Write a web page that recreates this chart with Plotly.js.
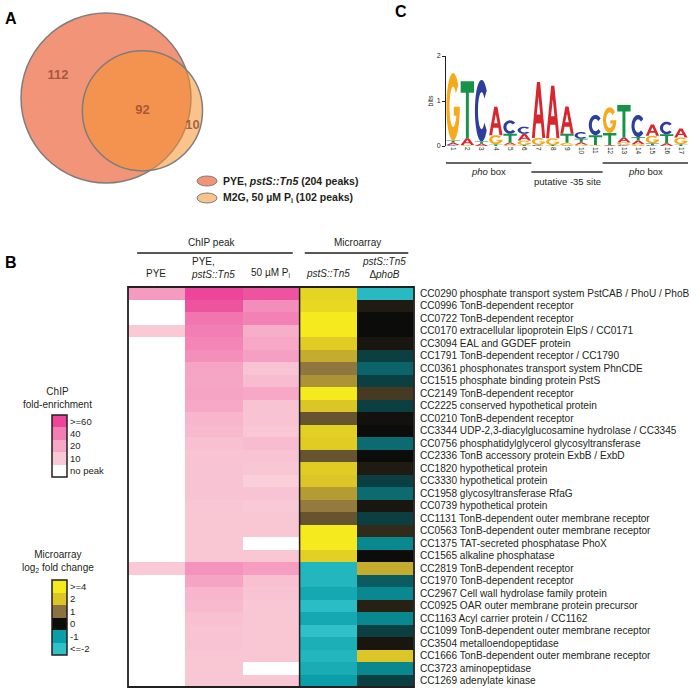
<!DOCTYPE html>
<html>
<head>
<meta charset="utf-8">
<script src="https://cdn.plot.ly/plotly-3.0.1.min.js"></script>
<style>html,body{margin:0;padding:0;background:#fff}</style>
</head>
<body>
<div id="fig" style="width:700px;height:691px"></div>
<script>
// ---------- Data: panel A (Venn) ----------
const vennSets = ['PYE, <i>pstS::Tn5</i> (204 peaks)', 'M2G, 50 \u00b5M P<sub>i</sub> (102 peaks)'];
const vennTotals = [204, 102];
const vennOnly = [112, 10];
const vennShared = 92;

// ---------- Data: panel B (heatmap) ----------
const genes = [
  'CC0290 phosphate transport system PstCAB / PhoU / PhoB',
  'CC0996 TonB-dependent receptor',
  'CC0722 TonB-dependent receptor',
  'CC0170 extracellular lipoprotein ElpS / CC0171',
  'CC3094 EAL and GGDEF protein',
  'CC1791 TonB-dependent receptor / CC1790',
  'CC0361 phosphonates transport system PhnCDE',
  'CC1515 phosphate binding protein PstS',
  'CC2149 TonB-dependent receptor',
  'CC2225 conserved hypothetical protein',
  'CC0210 TonB-dependent receptor',
  'CC3344 UDP-2,3-diacylglucosamine hydrolase / CC3345',
  'CC0756 phosphatidylglycerol glycosyltransferase',
  'CC2336 TonB accessory protein ExbB / ExbD',
  'CC1820 hypothetical protein',
  'CC3330 hypothetical protein',
  'CC1958 glycosyltransferase RfaG',
  'CC0739 hypothetical protein',
  'CC1131 TonB-dependent outer membrane receptor',
  'CC0563 TonB-dependent outer membrane receptor',
  'CC1375 TAT-secreted phosphatase PhoX',
  'CC1565 alkaline phosphatase',
  'CC2819 TonB-dependent receptor',
  'CC1970 TonB-dependent receptor',
  'CC2967 Cell wall hydrolase family protein',
  'CC0925 OAR outer membrane protein precursor',
  'CC1163 Acyl carrier protein / CC1162',
  'CC1099 TonB-dependent outer membrane receptor',
  'CC3504 metalloendopeptidase',
  'CC1666 TonB-dependent outer membrane receptor',
  'CC3723 aminopeptidase',
  'CC1269 adenylate kinase'
];
// ChIP fold-enrichment (0 = no peak)
const chipPYE  = [26,0,0,10,0,0,0,0,0,0,0,0,0,0,0,0,0,0,0,0,0,0,10,0,0,0,0,0,0,0,0,0];
const chipPstS = [65,55,43,40,36,32,22,21,22,20,16,15,13,12,12,12,12,11,11,11,11,11,30,22,16,15,13,12,12,11,11,11];
const chip50   = [55,33,38,18,20,24,12,14,20,12,12,11,14,12,11,9,12,10,11,11,0,11,25,13,12,11,11,11,11,11,0,11];
// Microarray log2 fold change
const arrayPstS = [2.8,3.0,4,4,2.4,1.7,1.05,1.4,4,2.0,0.7,2.6,2.4,0.7,2.4,2.0,1.5,1.1,0.7,4,4,2.6,-1.7,-1.7,-1.3,-1.9,-1.3,-2,-1.5,-1.7,-1.4,-1.0];
const arrayPhoB = [-1.8,0.15,0,0,0.1,-0.35,-0.6,-0.35,0.45,-0.35,0.05,0,-0.65,0,0.15,-0.35,-0.65,0.1,-0.35,0.3,-0.85,0,1.7,-0.55,-0.85,0.2,-0.85,-0.35,0.1,2.0,-0.85,-0.35];

const chipLegendLabels = ['&gt;=60','40','20','10','no peak'];
const chipLegendValues = [60,40,20,10,0];
const arrayLegendLabels = ['&gt;=4','2','1','0','-1','&lt;=-2'];
const arrayLegendValues = [4,2,1,0,-1,-2];

// ---------- Data: panel C (sequence logo, bits) ----------
const logoPos = [1,2,3,4,5,6,7,8,9,10,11,12,13,14,15,16,17];
const bitsA = [0.05,0.15,0.05,0.63,0.04,0.15,1.24,1.17,0.61,0.05,0,0.02,0.11,0.08,0.25,0.06,0.20];
const bitsC = [0.02,0,1.37,0,0.30,0.16,0.02,0,0,0.15,0.45,0,0.02,0.49,0.02,0.28,0];
const bitsG = [1.50,0.02,0,0.20,0.03,0.10,0.16,0.15,0.07,0.03,0.02,0.57,0.06,0.04,0.17,0,0.15];
const bitsT = [0.05,1.27,0.05,0.04,0.20,0.02,0,0.02,0.20,0.08,0.22,0.27,0.72,0.08,0.04,0.20,0.04];
const siteNames = ['<i>pho</i> box', 'putative -35 site', '<i>pho</i> box'];
const siteStart = [1, 7, 12];
const siteEnd = [6, 11, 17];

// ---------- Style ----------
const W = 700, H = 691;
const FONT = 'Liberation Sans, Arial, Helvetica, sans-serif';
const INK = '#231f20';
const chipScale = [[0,'#ffffff'],[10/60,'#f9cad6'],[20/60,'#f6a8c6'],[40/60,'#f27eb3'],[1,'#ec4599']];
const arrayScale = [[0,'#2fc0c8'],[1/6,'#0a9ea8'],[2/6,'#0c0c0a'],[3/6,'#8c7240'],[4/6,'#dcc526'],[1,'#f4ea1e']];
const letterColor = {A:'#d7262e', C:'#2d3e9b', G:'#f7a81b', T:'#179249'};

const px = x => x / W;
const py = y => 1 - y / H;
function ann(text, x, y, o){
  o = o || {};
  return Object.assign({xref:'paper', yref:'paper', x:px(x), y:py(y), text:text, showarrow:false,
    xanchor:'center', yanchor:'middle', font:{family:FONT, size:10, color:INK}}, o);
}

const shapes = [], annotations = [], traces = [];

// ---------- Panel A ----------
const VENN_K = 5.95;               // px per sqrt(peak)
const c1 = [106, 98];              // big circle centre
const vennAngle = 19.4 * Math.PI / 180;
const r1 = VENN_K * Math.sqrt(vennTotals[0]);
const r2 = VENN_K * Math.sqrt(vennTotals[1]);
function lensArea(a, b, d){
  if (d >= a + b) return 0;
  if (d <= Math.abs(a - b)) return Math.PI * Math.min(a, b) ** 2;
  const t1 = Math.acos((d*d + a*a - b*b) / (2*d*a));
  const t2 = Math.acos((d*d + b*b - a*a) / (2*d*b));
  return a*a*(t1 - Math.sin(2*t1)/2) + b*b*(t2 - Math.sin(2*t2)/2);
}
const target = vennShared / vennTotals[1] * Math.PI * r2 * r2;
let lo = Math.abs(r1 - r2), hi = r1 + r2;
for (let i = 0; i < 60; i++){ const m = (lo + hi) / 2; if (lensArea(r1, r2, m) > target) lo = m; else hi = m; }
const dist = (lo + hi) / 2;
const c2 = [c1[0] + dist*Math.cos(vennAngle), c1[1] + dist*Math.sin(vennAngle)];
const bigFill = 'rgb(241,148,120)';
const smallFill = 'rgba(246,146,46,0.55)';
shapes.push({type:'circle', xref:'x2', yref:'y2', x0:c1[0]-r1, x1:c1[0]+r1, y0:c1[1]-r1, y1:c1[1]+r1,
  fillcolor:bigFill, line:{color:'#7d7d7d', width:1.5}, layer:'below'});
shapes.push({type:'circle', xref:'x2', yref:'y2', x0:c2[0]-r2, x1:c2[0]+r2, y0:c2[1]-r2, y1:c2[1]+r2,
  fillcolor:smallFill, line:{color:'#7d7d7d', width:1.5}, layer:'below'});
const a112 = vennAngle + Math.PI + 5*Math.PI/180;
traces.push({type:'scatter', mode:'text', xaxis:'x2', yaxis:'y2', hoverinfo:'skip',
  x:[c1[0] + 0.62*r1*Math.cos(a112), c2[0], c2[0] + (r2-8)*Math.cos(vennAngle - 3*Math.PI/180)],
  y:[c1[1] + 0.62*r1*Math.sin(a112), c2[1], c2[1] + (r2-8)*Math.sin(vennAngle - 3*Math.PI/180)],
  text:[vennOnly[0], vennShared, vennOnly[1]].map(v => '<b>' + v + '</b>'),
  textfont:{family:FONT, size:13, color:'rgba(150,72,45,0.8)'}});
[bigFill, smallFill].forEach((f, i) => {
  const cy = 181 + i*17;
  shapes.push({type:'circle', xref:'x2', yref:'y2', x0:197, x1:217, y0:cy-5, y1:cy+5,
    fillcolor:f, line:{color:'#7d7d7d', width:1}, layer:'below'});
  annotations.push(ann('<b>' + vennSets[i] + '</b>', 221, cy, {xanchor:'left', font:{family:FONT, size:10.5, color:INK}}));
});

// ---------- Panel B ----------
traces.push({type:'heatmap', x:[0,1,2], y:genes, z:genes.map((g,i) => [chipPYE[i], chipPstS[i], chip50[i]]),
  colorscale:chipScale, zmin:0, zmax:60, showscale:false, hoverinfo:'z'});
traces.push({type:'heatmap', x:[3,4], y:genes, z:genes.map((g,i) => [arrayPstS[i], arrayPhoB[i]]),
  colorscale:arrayScale, zmin:-2, zmax:4, showscale:false, hoverinfo:'z'});
traces.push({type:'heatmap', xaxis:'x4', yaxis:'y4', x:[0], y:chipLegendLabels, z:chipLegendValues.map(v => [v]),
  colorscale:chipScale, zmin:0, zmax:60, showscale:false, hoverinfo:'skip'});
traces.push({type:'heatmap', xaxis:'x5', yaxis:'y5', x:[0], y:arrayLegendLabels, z:arrayLegendValues.map(v => [v]),
  colorscale:arrayScale, zmin:-2, zmax:4, showscale:false, hoverinfo:'skip'});

shapes.push({type:'rect', xref:'x domain', yref:'y domain', x0:0, x1:1, y0:0, y1:1, line:{color:INK, width:1.8}});
shapes.push({type:'line', xref:'x', yref:'y domain', x0:2.5, x1:2.5, y0:0, y1:1, line:{color:INK, width:1.5}});
shapes.push({type:'line', xref:'x', yref:'paper', x0:-0.34, x1:2.38, y0:py(253), y1:py(253), line:{color:INK, width:1.5}});
shapes.push({type:'line', xref:'x', yref:'paper', x0:2.59, x1:4.4, y0:py(253), y1:py(253), line:{color:INK, width:1.5}});
['x4','x5'].forEach(a => shapes.push({type:'rect', xref:a + ' domain', yref:'y' + a.slice(1) + ' domain',
  x0:0, x1:1, y0:0, y1:1, line:{color:INK, width:1.5}}));

annotations.push(ann('ChIP peak', 212, 242));
annotations.push(ann('Microarray', 357, 242));
annotations.push(ann('PYE', 156, 273));
annotations.push(ann('PYE,<br><i>pstS::Tn5</i>', 213, 268, {align:'left'}));
annotations.push(ann('50 \u00b5M P<sub>i</sub>', 270, 273));
annotations.push(ann('<i>pstS::Tn5</i>', 328, 274));
annotations.push(ann('<i>pstS::Tn5</i><br>\u0394<i>phoB</i>', 384, 268));
annotations.push(ann('ChIP<br>fold-enrichment', 58, 398));
annotations.push(ann('Microarray<br>log<sub>2</sub> fold change', 58, 561));

// ---------- Panel C ----------
function arcPts(cx, cy, rx, ry, a0, a1, n){
  const pts = [];
  for (let i = 0; i <= n; i++){
    const a = (a0 + (a1 - a0) * i / n) * Math.PI / 180;
    pts.push([cx + rx*Math.cos(a), cy + ry*Math.sin(a)]);
  }
  return pts;
}
const GLYPHS = {
  A: [[[0,0],[0.38,1],[0.62,1],[1,0],[0.78,0],[0.69,0.26],[0.31,0.26],[0.22,0]],
      [[0.37,0.42],[0.63,0.42],[0.5,0.74]]],
  T: [[[0,1],[1,1],[1,0.8],[0.61,0.8],[0.61,0],[0.39,0],[0.39,0.8],[0,0.8]]],
  C: [arcPts(.5,.5,.5,.5,40,320,32).concat(arcPts(.5,.5,.27,.3,320,40,32))],
  G: [arcPts(.5,.5,.5,.5,40,360,32).concat([[0.55,0.5],[0.55,0.37]]).concat(arcPts(.5,.5,.27,.3,334.3,40,32))]
};
const bits = {A:bitsA, C:bitsC, G:bitsG, T:bitsT};
const stackTop = [];
logoPos.forEach((p, i) => {
  const stack = Object.keys(bits).map(k => [k, bits[k][i]]).filter(d => d[1] > 0).sort((a, b) => a[1] - b[1]);
  let y0 = 0;
  const x0 = p - 0.47, w = 0.94;
  stack.forEach(([k, h]) => {
    const path = GLYPHS[k].map(poly => 'M' + poly.map(([u, v]) =>
      (x0 + u*w).toFixed(4) + ',' + (y0 + v*h).toFixed(4)).join('L') + 'Z').join('');
    shapes.push({type:'path', xref:'x3', yref:'y3', path:path, fillcolor:letterColor[k], line:{width:0}});
    y0 += h;
  });
  stackTop.push(y0);
});
traces.push({type:'scatter', mode:'markers', xaxis:'x3', yaxis:'y3', x:logoPos, y:stackTop,
  marker:{opacity:0}, hoverinfo:'skip'});
siteNames.forEach((s, i) => {
  const ly = i === 1 ? 172 : 163;
  shapes.push({type:'line', xref:'x3', yref:'paper', x0:siteStart[i]-0.5, x1:siteEnd[i]+0.5, y0:py(ly), y1:py(ly),
    line:{color:'#333', width:1.5}});
  annotations.push({xref:'x3', yref:'paper', x:(siteStart[i]+siteEnd[i])/2, y:py(ly + 9), text:s, showarrow:false,
    xanchor:'center', yanchor:'middle', font:{family:FONT, size:9.5, color:INK}});
});

// panel letters
annotations.push(ann('<b>A</b>', 3, 18, {xanchor:'left', font:{family:FONT, size:16, color:'#000'}}));
annotations.push(ann('<b>B</b>', 3, 262, {xanchor:'left', font:{family:FONT, size:16, color:'#000'}}));
annotations.push(ann('<b>C</b>', 393, 12, {xanchor:'left', font:{family:FONT, size:16, color:'#000'}}));

const hidden = {visible:false, fixedrange:true, showgrid:false, zeroline:false};
const legendY = {type:'category', autorange:'reversed', side:'right', ticks:'', showgrid:false, zeroline:false,
  showline:false, tickfont:{family:FONT, size:9.5, color:INK}, ticklabelstandoff:2, fixedrange:true};

const layout = {
  width:W, height:H, margin:{l:0, r:0, t:0, b:0}, showlegend:false,
  paper_bgcolor:'#fff', plot_bgcolor:'rgba(0,0,0,0)', font:{family:FONT, color:INK},
  xaxis:Object.assign({}, hidden, {domain:[px(128), px(414)], range:[-0.5, 4.5], anchor:'y'}),
  yaxis:{domain:[py(687), py(287)], type:'category', autorange:'reversed', side:'right', anchor:'x',
    ticks:'', showgrid:false, zeroline:false, showline:false, tickmode:'linear', tick0:0, dtick:1,
    tickfont:{family:FONT, size:10.1, color:INK}, ticklabelstandoff:5, fixedrange:true},
  xaxis2:Object.assign({}, hidden, {domain:[0, px(390)], range:[0, 390], anchor:'y2'}),
  yaxis2:Object.assign({}, hidden, {domain:[py(230), 1], range:[230, 0], anchor:'x2'}),
  xaxis3:{domain:[px(446), px(688)], range:[0.5, 17.5], anchor:'y3', tickmode:'array', tickvals:logoPos,
    tickangle:90, ticks:'', showline:false, showgrid:false, zeroline:false,
    tickfont:{family:FONT, size:6.5, color:INK}, ticklabelstandoff:0, fixedrange:true},
  yaxis3:{domain:[py(146), py(56)], range:[0, 2], anchor:'x3', tickvals:[0,1,2], ticks:'outside', ticklen:3,
    tickcolor:INK, showline:true, linecolor:INK, linewidth:1, showgrid:false, zeroline:false,
    tickfont:{family:FONT, size:7, color:INK}, title:{text:'bits', font:{family:FONT, size:7, color:INK}, standoff:2},
    fixedrange:true},
  xaxis4:Object.assign({}, hidden, {domain:[px(52), px(67)], range:[-0.5, 0.5], anchor:'y4'}),
  yaxis4:Object.assign({}, legendY, {domain:[py(477), py(415)], anchor:'x4'}),
  xaxis5:Object.assign({}, hidden, {domain:[px(52), px(67)], range:[-0.5, 0.5], anchor:'y5'}),
  yaxis5:Object.assign({}, legendY, {domain:[py(655), py(580)], anchor:'x5'}),
  shapes:shapes,
  annotations:annotations
};

Plotly.newPlot('fig', traces, layout, {displayModeBar:false, staticPlot:true});
</script>
</body>
</html>
